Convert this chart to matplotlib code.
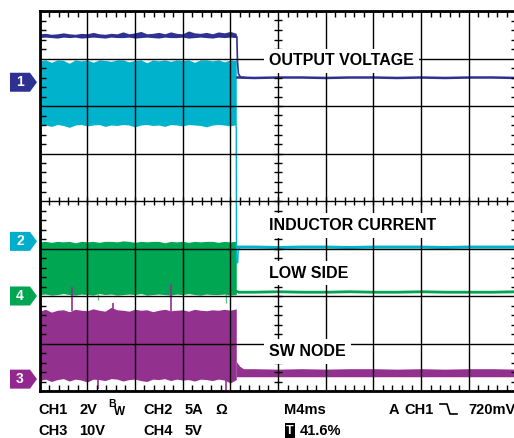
import numpy as np
import matplotlib
matplotlib.use('Agg')
import matplotlib.pyplot as plt
from matplotlib.patches import Polygon
from matplotlib.lines import Line2D
from matplotlib.ticker import MultipleLocator
from matplotlib.transforms import blended_transform_factory

plt.rcParams['font.family'] = ['Liberation Sans', 'DejaVu Sans']
plt.rcParams['font.weight'] = 'bold'

# time in ms (4 ms/div), vertical in screen divisions
t_pre = np.linspace(0, 16.5, 34)

ch1_top = [7.52, 7.53, 7.51, 7.52, 7.54, 7.52, 7.51, 7.53, 7.52, 7.55, 7.52, 7.51, 7.53, 7.52, 7.56, 7.52, 7.54,
           7.57, 7.52, 7.53, 7.55, 7.52, 7.56, 7.53, 7.52, 7.58, 7.54, 7.53, 7.55, 7.52, 7.56, 7.54, 7.57, 7.53]
ch1_bot = [7.44, 7.45, 7.44, 7.43, 7.45, 7.44, 7.45, 7.43, 7.44, 7.45, 7.44, 7.43, 7.45, 7.44, 7.44, 7.45, 7.43,
           7.44, 7.45, 7.44, 7.43, 7.45, 7.44, 7.44, 7.45, 7.43, 7.44, 7.45, 7.44, 7.43, 7.45, 7.44, 7.45, 7.44]
ch2_top = [6.95, 6.97, 6.92, 6.97, 6.96, 6.90, 6.97, 6.95, 6.97, 6.92, 6.97, 6.96, 6.94, 6.97, 6.97, 6.93, 6.96,
           6.97, 6.91, 6.97, 6.95, 6.97, 6.94, 6.97, 6.96, 6.97, 6.92, 6.97, 6.97, 6.95, 6.97, 6.93, 6.97, 6.96]
ch2_bot = [5.58, 5.60, 5.57, 5.61, 5.59, 5.55, 5.60, 5.61, 5.58, 5.60, 5.61, 5.57, 5.60, 5.59, 5.61, 5.60, 5.56,
           5.60, 5.61, 5.59, 5.60, 5.57, 5.61, 5.60, 5.58, 5.61, 5.60, 5.59, 5.56, 5.60, 5.61, 5.60, 5.58, 5.61]
ch4_top = [3.14, 3.15, 3.13, 3.15, 3.14, 3.15, 3.12, 3.15, 3.14, 3.15, 3.13, 3.15, 3.15, 3.14, 3.16, 3.15, 3.13,
           3.15, 3.14, 3.15, 3.15, 3.12, 3.15, 3.14, 3.15, 3.13, 3.15, 3.14, 3.15, 3.15, 3.13, 3.15, 3.14, 3.15]
ch4_bot = [2.03, 2.04, 2.02, 2.03, 2.05, 2.03, 2.02, 2.04, 2.03, 2.02, 2.05, 2.03, 2.04, 2.02, 2.03, 2.04, 2.03,
           2.05, 2.02, 2.03, 2.04, 2.03, 2.02, 2.04, 2.03, 2.05, 2.03, 2.02, 2.04, 2.03, 2.03, 2.04, 2.02, 2.03]
ch3_top = [1.68, 1.72, 1.66, 1.70, 1.71, 1.67, 1.72, 1.70, 1.69, 1.73, 1.70, 1.68, 1.76, 1.71, 1.70, 1.68, 1.72,
           1.70, 1.71, 1.67, 1.70, 1.72, 1.69, 1.70, 1.71, 1.68, 1.72, 1.70, 1.69, 1.71, 1.70, 1.72, 1.70, 1.73]
ch3_bot = [0.22, 0.25, 0.20, 0.24, 0.26, 0.21, 0.25, 0.23, 0.19, 0.25, 0.24, 0.22, 0.26, 0.25, 0.21, 0.24, 0.25,
           0.22, 0.20, 0.25, 0.24, 0.26, 0.22, 0.25, 0.23, 0.24, 0.21, 0.25, 0.24, 0.22, 0.25, 0.23, 0.17, 0.24]

# after the shutdown
t_post = [16.6, 18, 20, 22, 24, 26, 28, 30, 32, 34, 36, 38, 40]
ch1_post = [6.60, 6.59, 6.60, 6.60, 6.59, 6.60, 6.60, 6.59, 6.60, 6.59, 6.60, 6.60, 6.59]
ch2_post = [3.03, 3.03, 3.02, 3.03, 3.03, 3.02, 3.03, 3.03, 3.03, 3.02, 3.03, 3.03, 3.03]
ch4_post = [2.09, 2.09, 2.10, 2.09, 2.09, 2.10, 2.09, 2.09, 2.10, 2.09, 2.09, 2.09, 2.10]
ch3_post = [0.40, 0.39, 0.38, 0.39, 0.38, 0.39, 0.39, 0.38, 0.39, 0.38, 0.39, 0.39, 0.38]

# edges at the switch-off
ch1_edge_t = [16.45, 16.55, 16.60, 16.68, 16.85, 17.2]
ch1_edge_v = [7.48, 7.46, 6.95, 6.68, 6.61, 6.60]
ch2_edge_t = [16.45, 16.50, 16.52, 16.62, 16.66, 16.8, 17.2]
ch2_edge_v = [5.62, 5.55, 2.70, 2.70, 2.95, 3.02, 3.03]

# spikes on the switching traces
ch4_spike_t = [4.88, 15.64]
ch4_spike_lo = [1.92, 1.86]
ch3_spike_t = [2.73, 11.03, 6.16]
ch3_spike_hi = [2.19, 2.25, 1.85]
ch3_dip_t = [4.88, 15.64]
ch3_dip_lo = [0.04, 0.02]

navy = '#2e3192'
cyan = '#00b2cb'
green = '#00a651'
purple = '#93318e'

fig = plt.figure(figsize=(5.14, 4.38), dpi=100)
ax = fig.add_axes([39.5 / 514, 47 / 438, 477 / 514, 380 / 438])
ax.set_xlim(0, 40)
ax.set_ylim(0, 8)

# traces
ax.fill_between(t_pre, ch2_bot, ch2_top, color=cyan, lw=0)
ax.plot(ch2_edge_t, ch2_edge_v, color=cyan, lw=1)
ax.plot(t_post, ch2_post, color=cyan, lw=2.2)

ax.fill_between(t_pre, ch1_bot, ch1_top, color=navy, lw=0)
ax.plot(ch1_edge_t, ch1_edge_v, color=navy, lw=1.2)
ax.plot(t_post, ch1_post, color=navy, lw=1.8)

ax.fill_between(t_pre, ch4_bot, ch4_top, color=green, lw=0)
ax.fill_between(t_post, np.array(ch4_post) - 0.03, np.array(ch4_post) + 0.03, color=green, lw=0)
ax.plot([16.5, 16.6], [2.1, 2.09], color=green, lw=2)
ax.vlines(ch4_spike_t, ch4_spike_lo, 2.05, color='#5cc08a', lw=1)

ax.fill_between(t_pre, ch3_bot, ch3_top, color=purple, lw=0)
ax.fill_between([16.5, 16.8, 17.1] + t_post[1:],
                [0.30] * (len(t_post) + 2),
                [0.62, 0.52, 0.47] + list(np.array(ch3_post[1:]) + 0.08),
                color=purple, lw=0)
ax.vlines(ch3_spike_t, 1.68, ch3_spike_hi, color=purple, lw=1.2)
ax.vlines(ch3_dip_t, ch3_dip_lo, 0.25, color=purple, lw=1.2)

# graticule
ax.set_xticks(np.arange(0, 41, 4))
ax.set_yticks(np.arange(0, 9, 1))
ax.xaxis.set_minor_locator(MultipleLocator(0.8))
ax.yaxis.set_minor_locator(MultipleLocator(0.2))
ax.tick_params(which='major', length=0, labelbottom=False, labelleft=False)
ax.tick_params(which='minor', direction='in', length=4, width=1, color='k',
               top=True, bottom=True, left=True, right=True)
ax.grid(which='major', color='k', lw=1.0)
ax.set_axisbelow(False)
for s in ax.spines.values():
    s.set_linewidth(2)

minor_x = np.arange(0, 40.01, 0.8)
minor_y = np.arange(0, 8.01, 0.2)
ax.plot(minor_x, np.full_like(minor_x, 4), ls='none', marker='|', ms=6, mew=1, color='k', zorder=2.6)
ax.plot(np.full_like(minor_y, 20), minor_y, ls='none', marker='_', ms=6, mew=1, color='k', zorder=2.6)

# trace labels
labels = ['OUTPUT VOLTAGE', 'INDUCTOR CURRENT', 'LOW SIDE', 'SW NODE']
label_y = [6.95, 3.48, 2.48, 0.83]
for txt, yy in zip(labels, label_y):
    ax.text(19.25, yy, txt, ha='left', va='center', fontsize=11.5, fontweight='bold', zorder=3,
            bbox=dict(facecolor='white', edgecolor='none', pad=3.5))

# channel markers
chan_names = ['1', '2', '4', '3']
chan_levels = [6.5, 3.15, 2.0, 0.25]
chan_colors = [navy, '#00aecb', green, '#92278f']
trans = blended_transform_factory(ax.transAxes, ax.transData)
x0, x1, x2 = -29.5 / 477, -9.5 / 477, -2.5 / 477
for name, lvl, col in zip(chan_names, chan_levels, chan_colors):
    h = 0.2
    poly = Polygon([[x0, lvl - h], [x1, lvl - h], [x2, lvl], [x1, lvl + h], [x0, lvl + h]],
                   closed=True, facecolor=col, edgecolor='none', transform=trans, clip_on=False)
    ax.add_patch(poly)
    ax.text((x0 + x1) / 2, lvl, name, color='white', fontsize=10, fontweight='bold',
            ha='center', va='center', transform=trans, clip_on=False)

# scope settings along the bottom
def ftext(x, y, s, size=10.5, **kw):
    fig.text(x / 514, 1 - y / 438, s, va='center', ha='left', fontsize=size, fontweight='bold', **kw)

ftext(38, 409.5, 'CH1')
ftext(79, 409.5, '2V')
ftext(108, 404, 'B', size=7.5)
ftext(114, 412, 'W', size=8.5)
ftext(143, 409.5, 'CH2')
ftext(185, 409.5, '5A')
ftext(215, 409.5, '\u03a9')
ftext(284, 409.5, 'M4ms')
ftext(389, 409.5, 'A')
ftext(404, 409.5, 'CH1')
ftext(468, 409.5, '720mV')
ftext(38, 431, 'CH3')
ftext(79, 431, '10V')
ftext(143, 431, 'CH4')
ftext(185, 431, '5V')
ftext(300, 431, '41.6%')
fig.text(290 / 514, 1 - 431 / 438, 'T', color='white', fontsize=9, fontweight='bold',
         ha='center', va='center', bbox=dict(facecolor='black', edgecolor='none', pad=1.2))
trig_x = np.array([440, 447, 450, 457]) / 514
trig_y = 1 - np.array([404, 404, 414, 414]) / 438
fig.add_artist(Line2D(trig_x, trig_y, color='k', lw=1.2, transform=fig.transFigure))

fig.savefig('out.png', dpi=100)
